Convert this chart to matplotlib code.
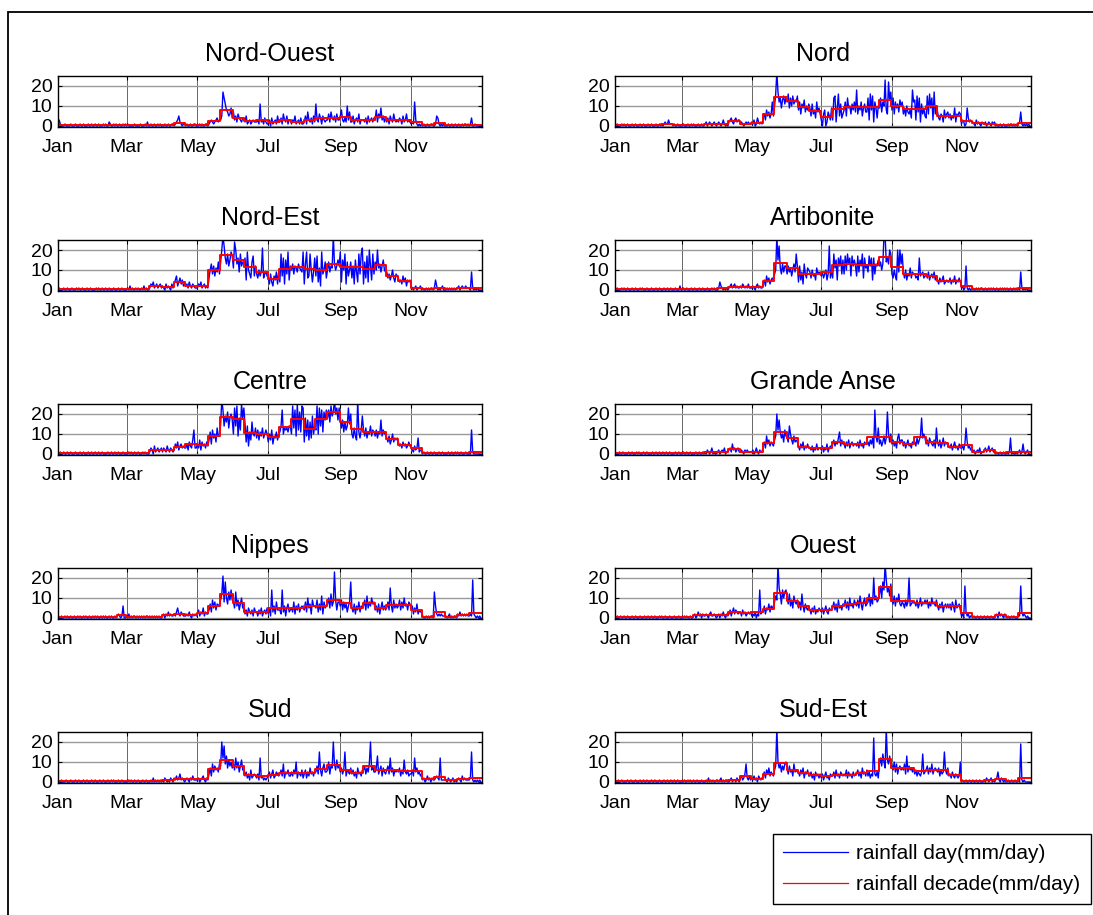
import numpy as np
import matplotlib.pyplot as plt
from matplotlib.patches import Rectangle

plt.rcParams['font.family'] = ['Liberation Sans', 'DejaVu Sans']

regions = ["Nord-Ouest", "Nord", "Nord-Est", "Artibonite", "Centre",
           "Grande Anse", "Nippes", "Ouest", "Sud", "Sud-Est"]

month_ticks = [1, 60, 121, 182, 244, 305]
month_labels = ["Jan", "Mar", "May", "Jul", "Sep", "Nov"]

# number of days in each decade (3 per month)
decade_len = [10, 10, 11, 10, 10, 8, 10, 10, 11, 10, 10, 10,
              10, 10, 11, 10, 10, 10, 10, 10, 11, 10, 10, 11,
              10, 10, 10, 10, 10, 11, 10, 10, 10, 10, 10, 11]

# daily rainfall (mm/day), Jan 1 -> Dec 31, one line per month
nord_ouest_day = [
    0, 3, 1, 0, 0, 0, 1, 0, 0, 0, 0, 1, 0, 0, 0, 1, 0, 0, 0, 1, 0, 0, 1, 0, 0, 0, 1, 0, 0, 1, 0,
    0, 1, 0, 0, 1, 0, 0, 0, 1, 0, 1, 0, 0, 2, 1, 0, 0, 1, 0, 1, 0, 0, 1, 0, 0, 1, 0, 1,
    0, 1, 0, 0, 0, 0, 0, 1, 0, 0, 0, 0, 1, 0, 0, 0, 1, 0, 2, 0, 0, 1, 0, 0, 1, 0, 0, 1, 0, 1, 0,
    0, 0, 1, 0, 0, 1, 0, 0, 1, 1, 0, 1, 2, 3, 5, 2, 1, 0, 1, 1, 0, 1, 0, 0, 1, 0, 0, 1, 1, 0,
    0, 0, 1, 0, 1, 0, 0, 1, 1, 0, 1, 2, 3, 2, 1, 2, 3, 4, 2, 3, 3, 5, 17, 14, 11, 8, 7, 5, 6, 9, 4,
    7, 3, 5, 2, 6, 4, 3, 2, 4, 4, 2, 5, 1, 2, 3, 1, 2, 3, 2, 2, 2, 3, 1, 11, 2, 3, 1, 4, 2, 1,
    1, 3, 0, 4, 1, 2, 3, 1, 5, 2, 2, 4, 1, 6, 3, 2, 5, 1, 3, 3, 1, 3, 2, 5, 1, 2, 3, 1, 4, 1, 1,
    2, 5, 1, 7, 3, 2, 4, 1, 5, 2, 11, 3, 2, 6, 4, 1, 5, 3, 2, 3, 3, 6, 2, 7, 4, 3, 5, 2, 6, 3, 3,
    5, 8, 3, 2, 4, 2, 10, 3, 7, 2, 2, 5, 1, 3, 4, 2, 6, 1, 3, 3, 3, 2, 4, 1, 5, 2, 3, 4, 2, 4,
    3, 8, 2, 6, 4, 9, 3, 5, 2, 4, 2, 4, 1, 5, 3, 2, 6, 3, 2, 3, 2, 4, 3, 1, 5, 2, 3, 6, 2, 3, 2,
    1, 2, 1, 12, 3, 1, 0, 1, 0, 1, 0, 1, 0, 0, 1, 0, 0, 1, 1, 0, 0, 1, 5, 4, 1, 0, 1, 0, 1, 0,
    0, 0, 1, 0, 0, 1, 0, 0, 1, 0, 0, 1, 0, 0, 1, 0, 1, 1, 0, 1, 0, 1, 4, 0, 0, 1, 0, 0, 0, 0, 0,
]
nord_ouest_dec = [0.5, 0.5, 0.5, 0.5, 0.7, 0.5, 0.3, 0.5, 0.5, 0.5, 1.6, 0.5,
                  0.5, 2.3, 8, 4, 2.3, 3, 2.2, 3, 2.2, 3.2, 4, 4,
                  4.6, 3, 3, 4.6, 3.1, 3, 2.2, 0.4, 1.3, 0.3, 0.5, 0.5]

nord_day = [
    0, 0, 1, 0, 0, 0, 1, 0, 1, 0, 0, 1, 0, 0, 0, 1, 0, 0, 1, 0, 0, 0, 1, 0, 0, 1, 0, 0, 0, 1, 0,
    0, 1, 0, 0, 0, 1, 0, 0, 1, 0, 1, 0, 1, 2, 1, 1, 3, 1, 1, 1, 0, 1, 0, 0, 1, 0, 0, 0,
    0, 1, 0, 0, 0, 1, 0, 0, 1, 0, 1, 0, 0, 0, 1, 0, 0, 1, 0, 0, 1, 2, 0, 1, 2, 1, 0, 1, 2, 1, 0,
    1, 2, 1, 0, 1, 3, 1, 0, 1, 0, 2, 3, 4, 2, 1, 3, 4, 2, 3, 3, 1, 2, 1, 0, 1, 2, 1, 2, 1, 1,
    2, 1, 3, 0, 1, 4, 2, 1, 2, 1, 4, 6, 3, 8, 5, 7, 4, 6, 12, 5, 10, 16, 27, 17, 12, 14, 9, 13, 15, 11, 14,
    12, 16, 9, 14, 10, 15, 11, 13, 12, 15, 8, 12, 6, 11, 9, 13, 7, 10, 8, 11, 9, 5, 11, 6, 8, 4, 12, 7, 9, 6,
    3, 0, 6, 8, 0, 2, 7, 5, 3, 9, 3, 14, 15, 2, 9, 16, 5, 11, 4, 6, 8, 12, 5, 14, 9, 10, 6, 11, 8, 12, 7,
    18, 6, 10, 8, 12, 5, 9, 11, 7, 7, 14, 3, 16, 8, 15, 2, 12, 9, 4, 10, 9, 14, 7, 12, 10, 23, 8, 6, 22, 13, 17,
    8, 14, 6, 12, 9, 11, 7, 13, 10, 12, 6, 9, 5, 10, 7, 6, 8, 4, 18, 12, 13, 3, 15, 7, 14, 2, 11, 6, 9, 5,
    4, 15, 6, 16, 9, 14, 3, 17, 6, 10, 7, 4, 3, 6, 5, 2, 8, 4, 6, 7, 4, 6, 3, 5, 4, 9, 2, 6, 5, 7, 6,
    1, 3, 2, 0, 1, 9, 4, 2, 3, 2, 2, 1, 0, 3, 1, 2, 1, 0, 2, 1, 1, 2, 0, 1, 2, 1, 0, 2, 1, 2,
    0, 1, 0, 0, 1, 0, 0, 1, 0, 0, 0, 1, 0, 1, 1, 0, 1, 0, 1, 0, 1, 2, 7, 1, 0, 1, 0, 1, 0, 1, 0,
]
nord_dec = [0.3, 0.3, 0.3, 0.3, 1.2, 0.3, 0.3, 0.3, 1.0, 1.0, 2.7, 1.2,
            1.7, 6, 14.3, 12.7, 9.5, 7.7, 4.3, 8.5, 9.3, 9.3, 9.3, 12.8,
            10.2, 8.5, 8.5, 10, 5.2, 5.2, 2.7, 1.3, 1.2, 0.3, 0.5, 1.3]

nord_est_day = [
    0, 1, 0, 0, 0, 1, 0, 0, 1, 0, 0, 0, 1, 0, 0, 0, 1, 0, 1, 0, 0, 1, 0, 0, 0, 1, 0, 0, 1, 0, 0,
    0, 0, 1, 0, 1, 0, 0, 1, 0, 0, 1, 0, 0, 1, 0, 0, 0, 1, 0, 0, 0, 1, 0, 0, 1, 0, 0, 0,
    0, 1, 0, 2, 0, 1, 0, 0, 1, 0, 1, 0, 0, 1, 0, 2, 0, 1, 0, 0, 1, 3, 2, 4, 1, 2, 3, 1, 2, 3, 1,
    2, 1, 0, 3, 1, 2, 1, 0, 3, 1, 3, 5, 7, 2, 4, 6, 3, 5, 2, 3, 2, 3, 1, 4, 2, 1, 3, 2, 1, 1,
    1, 3, 2, 4, 1, 2, 3, 1, 2, 1, 6, 10, 13, 8, 12, 7, 11, 9, 14, 8, 14, 20, 27, 22, 16, 13, 18, 12, 15, 19, 17,
    11, 24, 20, 13, 16, 9, 18, 12, 14, 13, 16, 5, 19, 10, 8, 6, 14, 17, 7, 12, 8, 6, 10, 7, 9, 21, 6, 8, 9, 7,
    6, 3, 8, 4, 2, 7, 5, 9, 3, 9, 4, 18, 7, 16, 3, 15, 8, 19, 5, 12, 10, 13, 8, 12, 11, 9, 13, 11, 10, 9, 19,
    3, 13, 19, 6, 7, 18, 10, 4, 9, 16, 7, 17, 4, 11, 2, 19, 8, 10, 14, 6, 10, 14, 9, 12, 11, 27, 13, 10, 12, 15, 12,
    19, 4, 15, 10, 18, 3, 14, 7, 10, 14, 6, 12, 3, 15, 9, 4, 18, 8, 18, 21, 3, 14, 6, 17, 4, 20, 12, 5, 18, 8,
    14, 10, 20, 11, 13, 9, 12, 15, 10, 9, 9, 6, 8, 5, 7, 10, 6, 4, 8, 7, 6, 4, 5, 3, 7, 4, 6, 2, 5, 4, 5,
    2, 1, 0, 1, 2, 0, 1, 1, 2, 0, 1, 0, 0, 1, 0, 1, 0, 1, 1, 0, 1, 5, 2, 0, 1, 0, 1, 2, 0, 0,
    0, 1, 0, 1, 0, 1, 0, 1, 0, 1, 1, 2, 0, 1, 2, 1, 1, 2, 1, 1, 1, 0, 9, 1, 0, 1, 0, 1, 0, 0, 0,
]
nord_est_dec = [0.3, 0.3, 0.3, 0.3, 0.3, 0.3, 0.5, 0.5, 2.1, 1.4, 4, 2,
                2, 9.8, 17.5, 15, 11.4, 9.1, 5.6, 10.7, 11.4, 10.5, 9.8, 13.2,
                11.4, 11.4, 10.7, 12.3, 7, 4.6, 1, 0.5, 1.2, 0.5, 1.2, 1.2]

artibonite_day = [
    0, 0, 1, 0, 0, 0, 1, 0, 1, 0, 0, 1, 0, 0, 0, 1, 0, 0, 1, 0, 0, 0, 1, 0, 1, 0, 0, 0, 1, 0, 0,
    0, 1, 0, 0, 0, 1, 0, 0, 1, 0, 0, 0, 1, 0, 0, 1, 0, 0, 1, 0, 0, 0, 1, 0, 0, 0, 2, 0,
    0, 1, 0, 0, 1, 0, 0, 0, 1, 0, 0, 1, 0, 0, 0, 1, 0, 0, 1, 0, 0, 0, 1, 0, 0, 0, 1, 0, 1, 0, 0,
    0, 1, 4, 2, 1, 0, 1, 0, 1, 0, 1, 2, 3, 1, 2, 3, 1, 2, 1, 1, 2, 1, 3, 2, 1, 2, 1, 3, 1, 1,
    1, 2, 1, 0, 2, 3, 1, 2, 1, 1, 3, 5, 2, 7, 4, 6, 3, 5, 6, 5, 8, 10, 27, 15, 22, 11, 8, 13, 9, 12, 12,
    8, 12, 9, 11, 7, 10, 13, 9, 18, 12, 4, 12, 5, 9, 3, 13, 8, 6, 11, 10, 9, 6, 10, 7, 8, 5, 11, 8, 9, 8,
    7, 9, 6, 8, 10, 5, 8, 22, 6, 10, 6, 18, 11, 15, 5, 16, 12, 17, 8, 15, 8, 17, 10, 18, 13, 16, 7, 17, 12, 15, 12,
    7, 17, 9, 15, 12, 18, 6, 16, 11, 12, 9, 17, 12, 16, 5, 16, 8, 13, 12, 15, 12, 14, 10, 13, 27, 27, 14, 16, 13, 20, 18,
    8, 6, 10, 7, 5, 20, 9, 20, 13, 18, 9, 6, 10, 5, 8, 7, 11, 6, 9, 8, 8, 6, 7, 5, 16, 7, 8, 9, 6, 7,
    8, 6, 9, 5, 7, 8, 6, 9, 5, 7, 5, 3, 6, 4, 5, 7, 3, 4, 5, 4, 4, 6, 3, 5, 4, 7, 3, 5, 4, 6, 4,
    1, 2, 0, 1, 12, 1, 0, 1, 0, 0, 1, 0, 0, 1, 0, 1, 0, 1, 1, 0, 0, 1, 0, 0, 1, 0, 1, 0, 1, 0,
    0, 1, 0, 0, 1, 0, 1, 0, 1, 0, 1, 0, 0, 1, 0, 0, 1, 0, 1, 0, 1, 0, 9, 1, 0, 1, 0, 1, 0, 0, 0,
]
artibonite_dec = [0.3, 0.3, 0.3, 0.3, 0.3, 0.4, 0.3, 0.3, 0.3, 1, 1.7, 1.7,
                  1.4, 4.6, 13.4, 10.9, 8.1, 8.1, 9.1, 12.3, 13.2, 12.3, 12.3, 16.7,
                  11.6, 7.9, 7.9, 7, 4.6, 4.6, 1.8, 0.5, 0.4, 0.4, 0.4, 1.2]

centre_day = [
    0, 0, 1, 0, 0, 1, 0, 0, 1, 0, 0, 1, 0, 0, 0, 1, 0, 0, 0, 1, 0, 0, 1, 0, 0, 0, 1, 0, 0, 1, 0,
    0, 1, 0, 0, 1, 0, 0, 1, 0, 0, 0, 0, 1, 0, 0, 1, 0, 0, 1, 0, 0, 1, 0, 0, 0, 1, 0, 0,
    0, 0, 1, 0, 1, 0, 0, 1, 0, 0, 1, 0, 0, 0, 1, 0, 1, 0, 0, 0, 1, 3, 2, 0, 4, 1, 2, 3, 1, 2, 3,
    1, 3, 2, 1, 4, 2, 1, 3, 2, 1, 2, 5, 3, 6, 2, 4, 5, 3, 4, 3, 3, 5, 2, 6, 4, 3, 7, 12, 3, 3,
    5, 3, 7, 2, 6, 4, 5, 3, 6, 4, 7, 11, 5, 12, 8, 10, 6, 13, 9, 9, 15, 27, 22, 14, 19, 16, 21, 13, 18, 20, 17,
    10, 23, 14, 24, 9, 18, 12, 25, 18, 23, 15, 6, 14, 4, 11, 7, 16, 10, 9, 13, 8, 12, 7, 11, 9, 13, 8, 10, 12, 10,
    6, 10, 7, 12, 5, 9, 8, 11, 7, 10, 11, 14, 22, 10, 13, 12, 13, 11, 14, 14, 10, 24, 13, 22, 9, 25, 12, 21, 11, 24, 23,
    6, 18, 9, 17, 7, 16, 8, 19, 10, 14, 12, 24, 10, 23, 14, 22, 11, 21, 17, 22, 18, 22, 16, 24, 19, 21, 27, 20, 23, 17, 23,
    18, 13, 17, 11, 16, 12, 14, 23, 15, 20, 10, 8, 13, 9, 7, 27, 11, 8, 12, 19, 12, 9, 13, 8, 11, 10, 14, 9, 12, 11,
    9, 12, 8, 11, 10, 17, 9, 12, 10, 11, 8, 6, 9, 5, 7, 10, 6, 8, 7, 8, 6, 4, 5, 3, 6, 4, 5, 3, 4, 6, 4,
    3, 2, 1, 4, 2, 3, 8, 1, 2, 2, 0, 1, 0, 0, 1, 0, 0, 1, 0, 0, 1, 0, 0, 0, 1, 0, 0, 1, 0, 0,
    0, 0, 1, 0, 0, 1, 0, 0, 1, 0, 1, 0, 0, 1, 0, 0, 0, 1, 0, 0, 0, 0, 12, 1, 0, 0, 0, 0, 0, 0, 0,
]
centre_dec = [0.3, 0.3, 0.3, 0.3, 0.3, 0.3, 0.3, 0.3, 2, 2, 3.7, 4.8,
              4.5, 9, 18.4, 17.6, 10.5, 10, 8.5, 13.4, 17.6, 12.4, 17.6, 20.9,
              15.9, 12.4, 10.9, 10.9, 7.4, 4.5, 2.8, 0.3, 0.3, 0.3, 0.3, 1]

grande_anse_day = [
    1, 0, 0, 0, 1, 0, 0, 1, 0, 0, 0, 0, 1, 0, 0, 1, 0, 0, 0, 1, 0, 1, 0, 0, 0, 1, 0, 0, 1, 0, 0,
    0, 0, 1, 0, 0, 1, 0, 0, 1, 0, 0, 1, 0, 0, 1, 0, 0, 1, 0, 0, 0, 0, 1, 0, 0, 1, 0, 0,
    0, 1, 0, 0, 1, 0, 0, 1, 0, 0, 0, 0, 1, 0, 0, 1, 0, 0, 1, 0, 1, 0, 2, 1, 0, 1, 3, 0, 1, 0, 0,
    1, 2, 0, 1, 2, 1, 3, 0, 1, 1, 2, 3, 1, 5, 2, 3, 1, 2, 3, 1, 1, 2, 1, 0, 2, 1, 2, 1, 1, 1,
    1, 2, 0, 1, 3, 1, 0, 2, 1, 1, 4, 6, 3, 9, 5, 7, 4, 6, 5, 4, 7, 9, 20, 12, 17, 11, 8, 10, 6, 12, 9,
    8, 6, 14, 10, 7, 5, 9, 6, 7, 6, 4, 2, 5, 3, 6, 2, 4, 3, 5, 3, 3, 2, 4, 1, 3, 2, 5, 2, 3, 3,
    2, 4, 1, 3, 2, 5, 1, 3, 4, 3, 5, 7, 4, 6, 5, 8, 11, 4, 7, 5, 5, 3, 6, 4, 7, 3, 5, 6, 4, 5, 5,
    4, 6, 3, 7, 4, 5, 3, 6, 5, 5, 6, 4, 7, 5, 8, 3, 22, 9, 6, 13, 5, 7, 4, 6, 9, 5, 8, 21, 10, 6, 10,
    5, 7, 4, 6, 3, 8, 10, 5, 7, 7, 4, 6, 3, 5, 7, 4, 5, 3, 6, 5, 6, 4, 8, 5, 7, 9, 18, 8, 10, 8,
    5, 7, 4, 8, 6, 5, 4, 7, 3, 13, 6, 4, 7, 3, 5, 8, 4, 6, 5, 5, 4, 3, 5, 2, 4, 6, 3, 4, 2, 5, 3,
    3, 4, 2, 5, 13, 6, 3, 4, 2, 3, 1, 2, 0, 1, 2, 1, 3, 0, 1, 1, 2, 3, 1, 2, 4, 1, 2, 3, 1, 1,
    0, 1, 0, 0, 1, 0, 0, 1, 0, 0, 1, 0, 1, 8, 0, 1, 0, 0, 1, 0, 1, 2, 0, 1, 5, 1, 0, 1, 2, 0, 0,
]
grande_anse_dec = [0.3, 0.3, 0.3, 0.3, 0.3, 0.3, 0.3, 0.3, 0.8, 1.2, 2.3, 1.2,
                   1.2, 5.3, 11, 7.8, 3.7, 2.8, 2.8, 6.2, 4.8, 4.8, 8.3, 8.3,
                   6.2, 4.8, 8.3, 6.2, 5.3, 3.7, 4.5, 1.2, 2, 0.3, 1.2, 1.2]

nippes_day = [
    1, 0, 0, 1, 0, 0, 1, 0, 1, 0, 0, 1, 0, 0, 1, 0, 0, 1, 0, 1, 0, 0, 1, 0, 1, 0, 0, 1, 0, 0, 1,
    0, 1, 0, 1, 0, 0, 1, 0, 1, 0, 1, 0, 0, 1, 0, 1, 0, 0, 1, 0, 1, 2, 1, 0, 1, 6, 0, 0,
    1, 0, 2, 0, 1, 0, 1, 1, 0, 1, 0, 1, 0, 1, 0, 1, 0, 1, 1, 0, 1, 0, 1, 0, 1, 0, 1, 0, 1, 0, 0,
    1, 2, 0, 2, 1, 3, 1, 2, 1, 1, 2, 1, 3, 5, 2, 1, 3, 2, 1, 1, 1, 2, 1, 3, 1, 0, 2, 1, 2, 1,
    2, 4, 1, 3, 2, 5, 1, 3, 2, 2, 4, 7, 3, 9, 5, 8, 4, 7, 6, 7, 9, 12, 21, 8, 18, 10, 7, 13, 9, 14, 9,
    8, 5, 13, 6, 9, 4, 7, 10, 5, 7, 2, 4, 1, 5, 3, 2, 4, 1, 5, 3, 3, 1, 4, 2, 5, 1, 3, 4, 2, 5,
    2, 5, 1, 14, 3, 6, 2, 8, 4, 4, 4, 2, 14, 3, 6, 1, 5, 7, 3, 4, 5, 3, 8, 2, 6, 4, 7, 3, 5, 6, 5,
    4, 8, 3, 10, 5, 7, 2, 9, 6, 6, 5, 9, 3, 7, 4, 11, 2, 8, 5, 6, 7, 10, 5, 12, 6, 8, 23, 9, 4, 8, 8,
    6, 9, 4, 8, 5, 7, 3, 6, 8, 18, 5, 3, 7, 2, 6, 4, 8, 3, 6, 5, 6, 9, 4, 11, 5, 8, 6, 10, 7, 8,
    4, 6, 3, 7, 2, 5, 8, 4, 6, 4, 5, 8, 4, 15, 6, 3, 9, 5, 7, 5, 6, 9, 4, 8, 5, 10, 6, 7, 4, 8, 7,
    4, 6, 2, 5, 3, 7, 2, 4, 3, 3, 1, 0, 0, 1, 0, 1, 0, 1, 1, 0, 13, 6, 2, 1, 2, 1, 2, 1, 1, 1,
    1, 0, 1, 2, 0, 1, 0, 1, 1, 0, 2, 1, 3, 1, 2, 1, 2, 1, 2, 1, 1, 2, 1, 19, 2, 1, 0, 1, 0, 1, 0,
]
nippes_dec = [0.4, 0.4, 0.4, 0.4, 0.4, 1.4, 0.7, 0.5, 0.5, 1.4, 2.1, 1.4,
              2.5, 6, 11.8, 7.4, 3, 3, 4.9, 4.9, 4.9, 6, 6, 9.1,
              7.4, 4.9, 7.4, 4.9, 6.7, 6.7, 3.9, 0.5, 3, 0.7, 1.6, 2.5]

ouest_day = [
    0, 0, 1, 0, 0, 1, 0, 0, 1, 0, 0, 1, 0, 0, 0, 1, 0, 0, 1, 0, 0, 0, 1, 0, 0, 0, 1, 0, 0, 1, 0,
    0, 1, 0, 0, 1, 0, 0, 0, 1, 0, 1, 0, 0, 1, 0, 0, 0, 1, 0, 0, 0, 1, 0, 0, 0, 1, 0, 0,
    0, 0, 1, 0, 1, 0, 0, 1, 0, 0, 1, 2, 0, 1, 3, 1, 2, 0, 2, 1, 1, 2, 1, 0, 2, 3, 1, 1, 2, 1, 0,
    1, 2, 0, 2, 1, 3, 1, 0, 2, 1, 2, 4, 1, 3, 5, 2, 4, 3, 2, 3, 3, 1, 4, 2, 3, 1, 2, 3, 2, 3,
    1, 2, 1, 3, 0, 2, 1, 14, 2, 3, 3, 6, 2, 5, 4, 7, 3, 6, 5, 6, 8, 11, 9, 27, 15, 12, 7, 14, 10, 13, 14,
    10, 7, 12, 6, 9, 5, 11, 8, 7, 9, 5, 8, 4, 12, 6, 3, 7, 5, 4, 6, 4, 2, 5, 3, 6, 2, 4, 3, 5, 4,
    3, 5, 2, 4, 6, 3, 2, 5, 4, 4, 5, 8, 4, 7, 3, 9, 5, 6, 4, 7, 6, 9, 5, 8, 4, 10, 6, 7, 5, 9, 7,
    6, 9, 5, 11, 7, 4, 8, 10, 6, 7, 8, 12, 6, 10, 7, 20, 9, 11, 8, 9, 12, 16, 10, 18, 14, 27, 19, 13, 15, 11, 17,
    9, 7, 11, 6, 10, 8, 12, 7, 6, 8, 7, 5, 9, 6, 8, 20, 6, 7, 8, 8, 8, 6, 9, 5, 7, 10, 6, 8, 7, 9,
    7, 9, 5, 8, 6, 10, 7, 8, 6, 9, 6, 4, 7, 5, 8, 3, 6, 7, 5, 7, 5, 7, 4, 8, 6, 3, 9, 5, 6, 7, 4,
    1, 2, 0, 16, 3, 1, 2, 0, 1, 1, 0, 1, 0, 0, 1, 0, 0, 1, 0, 0, 1, 0, 0, 1, 0, 0, 1, 0, 0, 0,
    1, 2, 0, 3, 1, 2, 1, 0, 2, 1, 0, 1, 0, 0, 1, 0, 1, 0, 0, 0, 2, 1, 16, 3, 1, 2, 1, 0, 1, 0, 0,
]
ouest_dec = [0.3, 0.3, 0.3, 0.3, 0.3, 0.3, 0.3, 1.3, 1.3, 1.3, 2.9, 2.4,
             2.9, 4.7, 12.7, 8.4, 6, 3.8, 3.8, 5.8, 6.9, 7.3, 10, 15.6,
             8.4, 8.4, 7.5, 7.5, 5.8, 5.8, 2.7, 0.3, 0.3, 1.3, 0.3, 2.4]

sud_day = [
    1, 0, 0, 1, 0, 0, 0, 1, 0, 0, 0, 1, 0, 0, 0, 1, 0, 0, 1, 0, 0, 0, 1, 0, 0, 1, 0, 0, 0, 1, 0,
    0, 1, 0, 0, 0, 1, 0, 0, 1, 0, 0, 0, 1, 0, 0, 1, 0, 1, 0, 0, 0, 1, 0, 0, 1, 0, 0, 0,
    0, 0, 1, 0, 1, 0, 0, 1, 0, 0, 1, 0, 0, 0, 1, 0, 0, 1, 0, 0, 0, 1, 0, 2, 0, 1, 0, 1, 0, 1, 0,
    1, 0, 2, 1, 0, 1, 0, 2, 1, 0, 2, 1, 3, 1, 2, 4, 1, 2, 1, 0, 1, 2, 1, 0, 2, 1, 3, 1, 1, 1,
    1, 2, 0, 1, 2, 3, 1, 0, 2, 1, 4, 7, 3, 9, 5, 8, 6, 7, 5, 9, 8, 20, 12, 18, 9, 13, 7, 11, 8, 10, 7,
    9, 6, 12, 7, 10, 5, 8, 11, 6, 6, 3, 5, 2, 4, 1, 6, 2, 3, 4, 3, 2, 4, 1, 12, 2, 3, 1, 2, 1, 2,
    3, 5, 2, 4, 6, 2, 3, 5, 4, 3, 4, 6, 3, 9, 2, 5, 4, 6, 3, 3, 5, 3, 6, 4, 10, 2, 5, 4, 3, 6, 2,
    4, 6, 2, 5, 3, 7, 4, 5, 3, 6, 5, 8, 4, 15, 6, 3, 7, 9, 5, 5, 6, 10, 4, 8, 7, 20, 9, 6, 11, 7, 8,
    5, 7, 4, 6, 15, 3, 6, 5, 4, 7, 4, 6, 3, 5, 2, 7, 4, 5, 3, 6, 6, 8, 4, 7, 5, 9, 20, 6, 8, 5,
    5, 7, 13, 4, 6, 8, 3, 7, 5, 4, 6, 8, 4, 12, 5, 7, 3, 6, 5, 6, 5, 7, 3, 6, 4, 11, 5, 4, 6, 3, 4,
    4, 6, 3, 12, 5, 7, 4, 5, 3, 4, 1, 2, 0, 1, 3, 1, 2, 0, 2, 1, 1, 2, 3, 2, 1, 12, 1, 1, 1, 1,
    1, 0, 2, 1, 0, 1, 2, 0, 1, 0, 1, 2, 1, 0, 3, 1, 2, 1, 1, 1, 1, 2, 15, 1, 0, 1, 0, 1, 0, 1, 0,
]
sud_dec = [0.3, 0.3, 0.3, 0.3, 0.3, 0.3, 0.3, 0.3, 0.5, 0.8, 1.7, 1.3,
           1.3, 6.3, 11.2, 8, 3.3, 3, 3.7, 4.5, 4.5, 4.5, 6.7, 8.7,
           6.2, 4.5, 7.8, 6.2, 6.2, 5.3, 5.3, 1.3, 2.5, 0.8, 1.3, 2]

sud_est_day = [
    1, 0, 0, 1, 0, 0, 1, 0, 0, 0, 0, 1, 0, 0, 1, 0, 0, 0, 1, 0, 0, 0, 1, 0, 0, 1, 0, 0, 1, 0, 0,
    0, 1, 0, 0, 1, 0, 0, 0, 1, 0, 0, 0, 1, 0, 0, 1, 0, 0, 1, 0, 0, 1, 0, 0, 1, 0, 0, 0,
    0, 0, 1, 0, 0, 1, 0, 1, 0, 0, 1, 0, 0, 1, 0, 0, 0, 1, 0, 0, 0, 1, 0, 2, 0, 1, 0, 1, 0, 0, 1,
    1, 0, 1, 2, 0, 1, 0, 1, 1, 0, 0, 1, 2, 0, 1, 1, 0, 2, 1, 0, 2, 3, 1, 2, 4, 9, 2, 1, 3, 1,
    2, 1, 3, 1, 2, 0, 3, 2, 1, 2, 3, 5, 2, 6, 4, 7, 3, 5, 4, 3, 6, 8, 27, 10, 7, 9, 5, 8, 6, 9, 10,
    7, 4, 8, 5, 6, 3, 9, 5, 6, 5, 5, 3, 6, 4, 7, 2, 5, 4, 6, 3, 3, 5, 2, 4, 1, 5, 3, 4, 2, 4,
    2, 4, 1, 3, 5, 2, 3, 1, 4, 3, 3, 5, 2, 6, 3, 4, 2, 5, 4, 3, 4, 3, 6, 2, 5, 3, 4, 2, 5, 3, 4,
    4, 6, 3, 5, 2, 7, 4, 5, 3, 6, 3, 5, 2, 4, 3, 22, 4, 3, 5, 2, 9, 12, 8, 14, 10, 7, 27, 11, 9, 13, 9,
    8, 6, 10, 5, 9, 4, 7, 8, 6, 7, 6, 9, 4, 13, 5, 8, 6, 7, 5, 7, 4, 6, 3, 5, 4, 3, 5, 14, 4, 5,
    6, 8, 4, 7, 5, 9, 4, 6, 7, 6, 5, 7, 3, 6, 4, 5, 15, 6, 4, 7, 3, 4, 2, 5, 3, 2, 4, 3, 2, 3, 10,
    0, 1, 0, 0, 1, 0, 0, 1, 0, 0, 1, 0, 0, 1, 0, 0, 1, 0, 0, 0, 1, 0, 2, 1, 0, 1, 2, 0, 1, 0,
    1, 2, 5, 1, 0, 2, 1, 0, 1, 0, 0, 1, 0, 0, 1, 0, 0, 1, 0, 0, 1, 0, 19, 1, 0, 1, 0, 0, 0, 0, 0,
]
sud_est_dec = [0.3, 0.3, 0.3, 0.3, 0.3, 0.3, 0.3, 0.3, 0.5, 0.7, 0.8, 2.8,
               1.7, 4.2, 9.5, 5.8, 4.5, 3.3, 2.8, 3.7, 3.7, 4.5, 5.3, 11.7,
               7, 7, 5.3, 6.2, 6.2, 3.7, 0.3, 0.3, 0.8, 1.3, 0.3, 2]

day_series = [nord_ouest_day, nord_day, nord_est_day, artibonite_day, centre_day,
              grande_anse_day, nippes_day, ouest_day, sud_day, sud_est_day]
dec_series = [nord_ouest_dec, nord_dec, nord_est_dec, artibonite_dec, centre_dec,
              grande_anse_dec, nippes_dec, ouest_dec, sud_dec, sud_est_dec]

days = np.arange(1, 366)
W, H = 1093, 915

fig = plt.figure(figsize=(W / 100, H / 100), dpi=100)

for i, name in enumerate(regions):
    row, col = divmod(i, 2)
    left = 58 if col == 0 else 615
    width = 424 if col == 0 else 416
    top = 76 + row * 164
    ax = fig.add_axes([left / W, 1 - (top + 51) / H, width / W, 51 / H])

    ax.plot(days, day_series[i], color='b', lw=1.0, label='rainfall day(mm/day)')
    ax.plot(days, np.repeat(dec_series[i], decade_len), color='r', lw=1.4,
            drawstyle='steps-mid', label='rainfall decade(mm/day)')

    ax.set_xlim(1, 366)
    ax.set_ylim(-0.5, 25)
    ax.set_xticks(month_ticks)
    ax.set_xticklabels(month_labels)
    ax.set_yticks([0, 10, 20])
    ax.tick_params(direction='in', top=True, right=True, length=3, width=0.8,
                   labelsize=14)
    ax.tick_params(axis='x', pad=9)
    ax.tick_params(axis='y', pad=4)
    ax.grid(axis='y', color='0.6', lw=1.0)
    ax.grid(axis='x', color='0.3', lw=0.6)
    for s in ax.spines.values():
        s.set_linewidth(1.0)
    ax.set_title(name, fontsize=18, pad=11)

handles, labels = ax.get_legend_handles_labels()
leg = fig.legend(handles, labels, loc='upper left',
                 bbox_to_anchor=(773 / W, 1 - 834 / H), fontsize=15,
                 frameon=True, fancybox=False, edgecolor='k', framealpha=1,
                 borderpad=0.5, handlelength=3.1, handletextpad=0.4,
                 labelspacing=0.55, borderaxespad=0)
leg.get_frame().set_linewidth(1.0)
for h in leg.get_lines():
    h.set_linewidth(0.9)

# outer frame
fig.add_artist(Rectangle((8 / W, -0.1), 1.2, 1 - 12 / H + 0.1,
                         transform=fig.transFigure, fill=False,
                         ec='k', lw=1.3))

fig.savefig('out.png', dpi=100)
